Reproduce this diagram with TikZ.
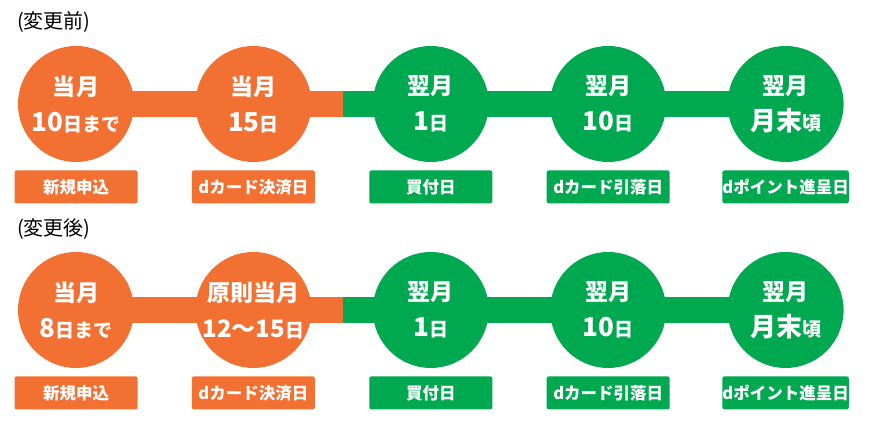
\documentclass[tikz,border=0pt]{standalone}
\usepackage{fontspec}
\setmainfont{Noto Sans CJK JP}
\usetikzlibrary{positioning, backgrounds}
\definecolor{tporange}{RGB}{243,112,51}
\definecolor{tpgreen}{RGB}{0,169,79}
\newcommand\numbig[1]{{\fontsize{26}{36}\selectfont #1}}
\newcommand\nummid[1]{{\fontsize{24}{36}\selectfont #1}}
\newcommand\unitsm[1]{{\fontsize{19}{36}\selectfont #1}}
\tikzset{
    timeline/.style={x=1pt, y=-1pt, node distance=61pt},
    % negative inner sep keeps the wide labels from growing the circle
    circ/.style={circle, fill=#1, text=white, minimum size=116pt, inner sep=-10pt, align=center,
        font=\bfseries\fontsize{23}{36}\selectfont},
    tag/.style={fill=#1, text=white, rounded corners=2pt, minimum width=123pt, minimum height=33pt,
        inner sep=0pt, font=\bfseries\fontsize{16.5}{17}\selectfont},
    heading/.style={anchor=west, inner sep=0pt, font=\fontsize{20}{20}\selectfont},
    bar/.style={draw=#1, line width=26pt},
}

\begin{document}
\begin{tikzpicture}[timeline]
    \useasboundingbox (0,0) rectangle (870,427);

    % before the change
    \node[heading]                    (h1)  at (17,22)  {(変更前)};
    \node[circ=tporange]              (a1)  at (76,104) {当月\\\numbig{10}\unitsm{日まで}};
    \node[circ=tporange, right=of a1] (b1)  {当月\\\numbig{15}\unitsm{日}};
    \node[circ=tpgreen, right=of b1]  (c1)  {翌月\\\numbig{1}\unitsm{日}};
    \node[circ=tpgreen, right=of c1]  (d1)  {翌月\\\numbig{10}\unitsm{日}};
    \node[circ=tpgreen, right=of d1]  (e1)  {翌月\\\numbig{月末}\unitsm{頃}};
    \node[tag=tporange, below=8pt of a1] (ta1) {新規申込};
    \node[tag=tporange, below=8pt of b1] (tb1) {dカード決済日};
    \node[tag=tpgreen, below=8pt of c1]  (tc1) {買付日};
    \node[tag=tpgreen, below=8pt of d1]  (td1) {dカード引落日};
    \node[tag=tpgreen, below=8pt of e1]  (te1) {dポイント進呈日};
    \coordinate (s1) at (343,104);

    % after the change
    \node[heading]                    (h2)  at (17,229) {(変更後)};
    \node[circ=tporange]              (a2)  at (76,310) {当月\\\numbig{8}\unitsm{日まで}};
    \node[circ=tporange, right=of a2] (b2)  {原則当月\\\nummid{12〜15}\unitsm{日}};
    \node[circ=tpgreen, right=of b2]  (c2)  {翌月\\\numbig{1}\unitsm{日}};
    \node[circ=tpgreen, right=of c2]  (d2)  {翌月\\\numbig{10}\unitsm{日}};
    \node[circ=tpgreen, right=of d2]  (e2)  {翌月\\\numbig{月末}\unitsm{頃}};
    \node[tag=tporange, below=8pt of a2] (ta2) {新規申込};
    \node[tag=tporange, below=8pt of b2] (tb2) {dカード決済日};
    \node[tag=tpgreen, below=8pt of c2]  (tc2) {買付日};
    \node[tag=tpgreen, below=8pt of d2]  (td2) {dカード引落日};
    \node[tag=tpgreen, below=8pt of e2]  (te2) {dポイント進呈日};
    \coordinate (s2) at (343,310);

    % bars behind the circles
    \begin{scope}[on background layer]
        \draw[bar=tporange] (a1.center) -- (s1);
        \draw[bar=tpgreen] (s1) -- (e1.center);
        \draw[bar=tporange] (a2.center) -- (s2);
        \draw[bar=tpgreen] (s2) -- (e2.center);
    \end{scope}
\end{tikzpicture}
\end{document}
